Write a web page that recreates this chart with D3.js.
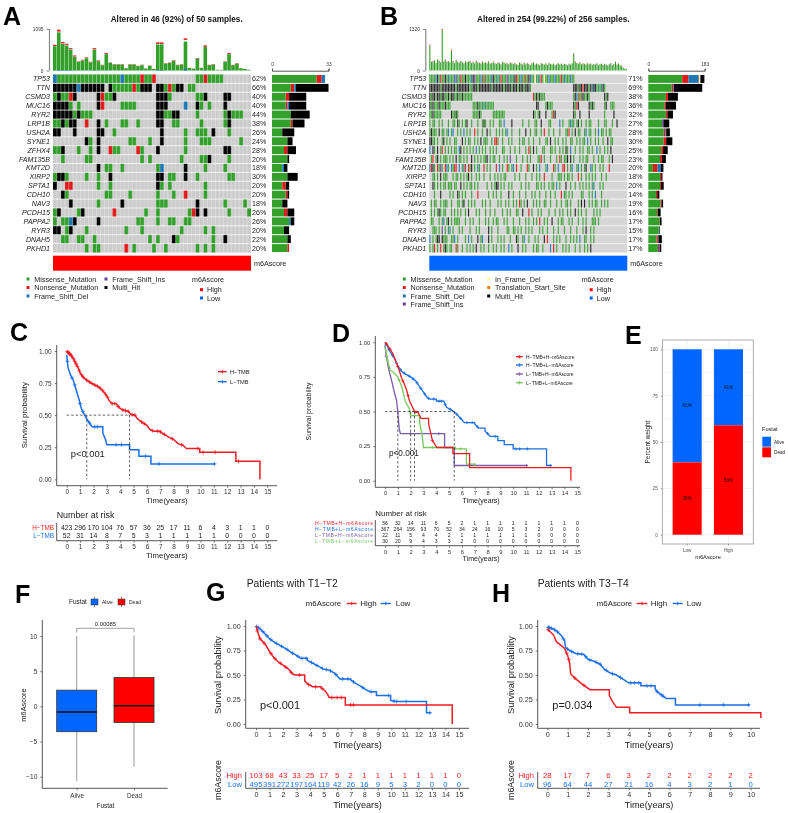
<!DOCTYPE html>
<html><head><meta charset="utf-8">
<script src="https://cdn.jsdelivr.net/npm/d3@7/dist/d3.min.js"></script>
<style>html,body{margin:0;padding:0;background:#fff}svg{display:block;filter:blur(.45px)}text{font-family:"Liberation Sans",Arial,sans-serif;fill:#222}</style>
</head><body><svg id="c" width="788" height="813"></svg>
<script>
// ---------- DATA ----------
const genes=["TP53","TTN","CSMD3","MUC16","RYR2","LRP1B","USH2A","SYNE1","ZFHX4","FAM135B","KMT2D","XIRP2","SPTA1","CDH10","NAV3","PCDH15","PAPPA2","RYR3","DNAH5","PKHD1"];
const pctA=[62,66,40,40,44,38,26,24,28,20,18,30,20,20,18,26,26,20,22,20];
const pctB=[71,69,38,36,32,27,28,30,25,23,20,18,20,14,19,16,17,15,17,17];
const cellsA=[
"DMMMMMMMMMMMMMMMMDMMMMNMMN..........MMNMMMM",
"HHHHHHDHHHHHH.HMMMMMNMHHH.HHMNMHH.MM",
"MHMMNH.....HNMMH..........HHHM......MMH....HH",
"HHHHM.M....HN....MMMM.....HHH....D..HM.M...H",
"HHHHHMHMMM................HHMMHH....M......MHMMM",
"MMHMHH..N..H.M...MM..M....HH..MM.....M.....MH",
"HH...H.....HH..M...........H.....M..MMM.H...M",
"........HM.H.......MM...M..H.....M...MMM.......M",
"MMH...M..M.H..NMM....NM...H......M.........HH",
"..M.....MM............M.M.......M....MMH....M",
"...........H.MM..M........MD.....H....M....M",
"MHHM....M..M..H...........HH.MM..H..M.......MM",
"H..NN......M..M...........HM.M........M",
"..HM.........MM....M......M...M..N....M",
"....H......M.....H........MMM.......H......M....M",
"MH....MH.......N.......M..M.......MNH.H.....M....M",
"M.MMDH.....H.........MM...M..MM..MM",
"HH.MH...M.........M...M.........M.....M.M",
"..MM..MM..M.............M.M...HM........M..H",
"........M.MM......N.M....M..M.......M.M.M"];
const tmbA=[680,1077,750,706,590,397,238,282,344,230,590,265,150,460,212,168,168,168,62,168,168,124,150,53,132,44,742,742,194,212,274,150,168,848,70,53,327,70,662,150,168,18,18,238,460,150,194,62,44,20];
const tmbAnons=[35,50,35,30,25,25,12,14,16,12,30,14,8,22,10,8,8,8,4,8,8,6,8,3,6,3,40,40,10,10,14,8,8,40,4,3,16,4,35,8,8,1,1,12,22,8,10,3,2,1];
const tmbAdel=[5,20,12,15,10,6,3,4,4,3,10,4,2,6,3,2,2,2,1,2,2,2,2,1,2,1,15,12,3,3,4,2,3,45,1,1,4,1,8,2,2,0,0,3,6,2,2,1,1,0];
const sideA=[[26,3,2,0],[11,2,1,19],[8,2,0,10],[8,1,1,10],[11,0,0,11],[11,1,0,7],[6,0,0,7],[9,0,0,3],[7,2,0,5],[9,0,0,1],[6,0,1,2],[9,0,0,6],[6,2,0,2],[8,1,0,1],[6,0,0,3],[7,2,0,4],[10,0,1,2],[7,0,0,3],[9,0,0,2],[9,1,0,0]];
// Panel B rows: [first bin, pattern]; one bin = two samples
const cellsB=[
[[0,"MMMMDHMNMMHMDMMMDIMMNMMHMMMDHIMMMDMNMMMMDHMMDMNMMMIMMDMHNMMDMMNMHDMMYMDMNMYMMDMMMDMMMNMDMMMDMM"]],
[[0,"HHHHHHHMHHHHHHHHHMHHHHHHHHMMHHHMHHHHHHHHMHHHHHHHMHHHHMHHHMHHHMHHHM"],[93,"HHHMHHNHHHMHDHHMMDMHM"]],
[[0,"HMHHMHHMHHMMHMHHMMHMMHMMMMMM"],[67,"NMHMHMMM"],[93,"MHDMNMHMMHM"],[113,"HMH"]],
[[0,"HMHMMMHMMMHMMM"],[28,"MMMHMMMDMMMMMM"],[69,"HH"],[75,"MHMMM"],[93,"HMNH"],[103,"HMHM"],[113,"MH"],[117,"MMM"]],
[[0,"MMHMMMMM"],[14,"HMMHM"],[28,"MMMMHM"],[41,"MMMMMMMM"],[67,"HM.MH"],[75,"H"],[79,"MNH"],[93,"HM"],[97,"H"],[103,"H"],[113,"M"],[119,"H"]],
"M.MM..M.M...M..MM.HM.M.MH..M...M..MHM..M.M...MM.D....H......M...M...MM..H....MM.....D.M...MDMM.MH.M..M.MM....M...MM...M..H",
"MHMMM.H.MM.MD.MD..M.M.D.M.M..N.M..M..H.M...M.M.M.MD..M....M...H..M..MM..M.N..M..M...M...MMN.M.H.MM..MD.MM..M.D.MM.M.MM...",
"HHMM.M..MH.M.M..MM...H.M.MM..M.M.H.MMM..M.NNM..M...M.M....M.MM..M..M...M...MM.H..M.M..M.M..MM..M.M.MM.D.M..M.M..M..H.MM..",
"D.HM.H.MN.M.M.M.MM.DH.M.M.M.M.D.M.M.M..M.M.M...MM...M..M..M...M.NM.H.M...MM...MM.M..M.M.HM.D..M..M.M..MM.M..D.M..M.M.H...",
".MN.MH.M.MMM.M.M.H.MM.M.M..H.M.M.M.MMH.M.MM..M..M.M.I...M...M..M.M....MMN.M...M...M.NM.MMH.H.M...M.M.MM...M..M.MM...M.H",
"DNHM.NMIM.NDM.DMNN.D.MDN.NMH.M.DM..N.M.M...N.D.M..NM.MD.N..M...NM..H.M.D...MD...NM.D..NN.M.MD..MD.M.MH..DM.M..M.M...N.",
"..MM.M.H.MMM...M.MM.M.M.MH.M..M.M..M...M..M.M.M.MM.....M..M...M...M..M.M..N....M...MMM.M.MM.M...N.M..M.M.M.M...M..M",
"..HM.M.M.MM.MMM.MM..H.M.M.MM.M.M.....M..M.MHH.M.M..M.M.....M..M.M....MM.M.M..M.MM.D.M...H..M..M..M.M.M.M.MD...M.M.",
"...M...H.....M.M..HM.M.M...M...N......M..M.M..M....H..M...M...M...M.M..M...M..M..M...N.MM.M.M.....MM...M.M.D...M..",
".M.MM..M.MMM..M...MM.MH..M.M.M....M.M..M....M.M..M.M..M.M.NM.M.H...M.M.M..MM..M...M..M..MM.M....M.H.H..M.M.MM..M.M.M",
".M.M.MHM.MM...M.M.M.M..M.H....M.M...M..M..M....M..M.M...MM..H...N.M...M.M....M...M..M.M..M.M..H.M.M..M....M.M.M",
".MM...M.MD.MH.M.MMMM...M..M.M...M...M.M..M.MM...M.M...M...M...M.M..M.M.N..M.M..H...M.MM...M.M...M..M.M...MMM.M",
"..MMM.M.I.M.MD.M...M.M....M...M.M.....H.M...M.....MM..MM.M.M..M.M.M....M.M..M...M..M...M...M...M...M.H..M.M.",
"D.M.MHH.HMMM..MMD.M....M.D.M...H.MD...H.M...M.M.M...M...HM..MD..M...M.M...H.N...M.M.M...M..M.M.M.D..MM..M.M",
"M.MN.M.N.MHM.MM..NM..M..M.M.M.H..M.M..M..M.M..M.M..D.M...H..M.M....M.MM..M....D.N.M...M.M.M...M..M..M.M.H."];
const tmbB=[820,280,300,330,240,350,310,260,1320,290,350,280,300,260,660,300,240,340,280,250,310,270,230,300,260,290,310,240,280,230,320,260,250,220,290,240,270,230,300,220,240,280,230,210,260,240,200,280,250,220,240,200,260,230,210,240,200,180,260,220,190,250,200,240,210,170,230,260,190,220,200,170,240,210,190,230,180,240,210,190,220,170,200,240,190,220,180,210,200,170,220,190,230,550,290,240,220,260,200,230,210,190,240,200,220,180,210,190,230,170,200,220,180,210,190,160,200,240,170,210,280,190,230,170,150,90,60,50];
const tmbBnons=[30,10,12,14,9,14,12,10,40,11,14,11,12,10,25,12,9,14,11,10,12,11,9,12,10,11,12,9,11,9,12,10,10,8,11,9,10,9,12,8,9,11,9,8,10,9,8,11,10,8,9,8,10,9,8,9,8,7,10,8,7,10,8,9,8,7,9,10,7,8,8,7,9,8,7,9,7,9,8,7,8,7,8,9,7,8,7,8,8,7,8,7,9,20,11,9,8,10,8,9,8,7,9,8,8,7,8,7,9,7,8,8,7,8,7,6,8,9,7,8,11,7,9,7,6,3,2,2];
const sideB=[[110,20,33,2,4,0,13],[76,5,2,0,0,0,92],[57,7,0,0,0,0,32],[52,4,0,0,0,0,34],[57,5,0,0,0,0,18],[45,0,0,4,0,0,19],[50,5,3,0,0,0,12],[50,8,0,0,0,0,20],[42,6,0,0,0,0,15],[38,6,0,0,0,0,13],[15,15,11,0,0,0,8],[38,4,0,0,0,0,4],[38,3,0,0,0,0,9],[25,4,0,0,0,0,7],[40,3,0,0,0,0,5],[29,2,0,0,0,0,9],[37,1,0,0,0,0,5],[34,0,1,0,0,0,2],[27,4,2,0,0,0,11],[31,4,3,0,0,0,4]];

const cH=[[0,1],[.1,.99],[.3,.97],[.5,.94],[.7,.9],[.9,.86],[1,.83],[1.2,.8],[1.4,.78],[1.6,.765],[2,.74],[2.4,.72],[2.7,.69],[3,.65],[3.2,.61],[3.4,.59],[3.7,.59],[3.9,.56],[4.2,.54],[4.6,.53],[4.8,.505],[5.1,.5],[5.3,.47],[5.7,.44],[6,.42],[6.2,.39],[6.5,.375],[7,.37],[7.3,.35],[7.6,.33],[8,.31],[8.3,.28],[8.7,.265],[8.95,.24],[9.95,.21],[12.65,.14],[14.45,0]];
const cHc=[.05,.1,.15,.2,.3,.35,.5,.6,.7,.8,.95,1.1,1.25,1.5,1.7,1.9,2.1,2.3,2.5,2.7,2.9,3.05,3.4,3.6,3.85,4.2,4.4,4.6,4.9,5.1,5.6,5.8,6.4,6.8,7,7.3,7.9,8.6,9.8,10.2,11.1,12.85];
const cL=[[0,.97],[.1,.87],[.3,.81],[.5,.77],[.7,.7],[.9,.63],[1.1,.55],[1.3,.51],[1.5,.47],[1.9,.41],[2.7,.36],[2.9,.31],[3,.27],[4.7,.23],[5.4,.18],[6.3,.12],[11.1,.12]];
const cLc=[.05,.4,.6,1,1.2,1.7,2.1,2.3,3.7,4.1,5.9,6.9,11.05];
const cRiskH=[423,296,170,104,76,57,36,25,17,11,6,4,3,1,1,0];
const cRiskL=[52,31,14,8,7,5,3,1,1,1,1,1,0,0,0,0];
const cMedian=[1.5,4.7];

const dHH=[[0,1],[.2,.98],[.4,.95],[.6,.92],[.9,.85],[1.1,.8],[1.3,.74],[1.5,.7],[1.7,.65],[1.9,.58],[2.3,.5],[2.6,.49],[2.8,.45],[3.4,.41],[3.7,.29],[4.05,.24],[5.3,.195],[6.6,.095],[14.5,0]];
const dHHc=[.1,.4,1,1.4,1.8,2.4,3.7];
const dHL=[[0,1],[.2,.97],[.4,.93],[.7,.89],[1,.83],[1.3,.79],[1.6,.77],[2,.75],[2.4,.72],[2.7,.68],[3,.64],[3.3,.6],[3.5,.59],[4,.575],[4.6,.57],[4.8,.53],[5.2,.51],[5.5,.49],[5.8,.46],[6.2,.42],[7,.41],[7.3,.38],[7.8,.36],[8.2,.32],[8.8,.29],[9.3,.26],[10,.23],[12.6,.11],[13,.11]];
const dHLc=[.1,.3,.6,.9,1.2,1.5,1.9,2.2,2.5,2.8,3.1,3.4,3.8,4.2,4.4,4.7,5.1,5.6,5.9,6.4,6.8,7.2,8,8.6,10.2,10.5,11.1,12.9];
const dLH=[[0,.98],[.1,.9],[.3,.8],[.5,.73],[.7,.65],[.9,.58],[1,.5],[1.1,.38],[1.2,.34],[4.65,.24],[5.4,.11],[11.1,.11]];
const dLHc=[.1,2,4.2,11.05];
const dLL=[[0,.97],[.2,.87],[.4,.8],[.7,.78],[1,.75],[1.3,.68],[1.6,.57],[1.9,.52],[2,.47],[2.7,.42],[2.9,.33],[3,.24],[5.5,.23],[6.35,.12],[7,.115]];
const dLLc=[.2,1.1,2.3,3.7,5.9,7];
const dRisk1=[56,32,14,11,6,5,2,1,1,1,1,1,1,1,1,0];
const dRisk2=[367,264,156,93,70,52,34,24,16,10,5,3,2,0,0,0];
const dRisk3=[22,11,5,4,4,2,1,1,1,1,1,1,0,0,0,0];
const dRisk4=[30,20,9,4,3,3,2,0,0,0,0,0,0,0,0,0];
const dMedian=[1,2,2.3,5.4];

const gHigh=[[0,1],[.1,.95],[.3,.87],[.5,.84],[.7,.81],[1,.74],[1.3,.68],[1.6,.64],[2,.6],[2.4,.56],[2.7,.51],[2.9,.5],[3.6,.44],[3.8,.41],[4.2,.38],[4.8,.37],[5.1,.34],[5.3,.3],[5.4,.27],[6.6,.195],[14.5,0]];
const gHighc=[.1,.3,.6,1.1,1.4,1.8,2.2,2.6,3.2,3.9,4.4,4.9,5.6,6,6.3,7,7.2];
const gLow=[[0,1],[.3,.97],[.6,.93],[1,.87],[1.4,.83],[1.8,.8],[2.2,.77],[2.6,.73],[3,.7],[3.3,.67],[3.8,.65],[4.2,.62],[4.6,.59],[5,.56],[5.4,.55],[5.8,.52],[6.2,.46],[7,.45],[7.3,.42],[7.7,.39],[8,.36],[8.4,.33],[8.9,.29],[9.95,.24],[10.3,.23],[12.6,.115],[12.9,.115]];
const gLowc=[.05,.2,.5,.8,1.1,1.5,1.9,2.3,2.7,3.1,3.4,3.7,4.1,4.5,4.9,5.2,5.5,5.9,6.4,6.8,7.2,7.9,8.5,9.8,10.2,10.4,11.1,12.85];
const gRiskHigh=[103,68,43,33,25,17,5,2,1,1,1,1,1,1,1,0];
const gRiskLow=[495,391,272,197,164,119,42,26,16,9,5,3,2,0,0,0];

const hHigh=[[0,.97],[.3,.91],[.45,.84],[.85,.77],[1,.7],[1.1,.62],[1.15,.51],[1.4,.46],[1.7,.41],[2.1,.35],[3.05,.29],[3.2,.23],[3.4,.17],[4.05,.115],[10.5,.06]];
const hHighc=[.05,.95,1.05,1.35,1.8];
const hLow=[[0,.99],[.3,.97],[.5,.94],[.7,.9],[.85,.85],[.9,.78],[1.1,.75],[1.4,.72],[1.8,.71],[2,.66],[2.3,.64],[2.6,.61],[2.8,.56],[3.1,.52],[3.4,.5],[3.7,.46],[4,.42],[4.6,.39],[5.3,.36],[5.4,.33],[5.85,.26],[6.3,.195],[9.95,.195]];
const hLowc=[.05,.1,.2,.35,.5,.8,1,1.2,1.5,1.7,1.9,2.1,2.4,2.6,2.9,3.2,3.6,4.1,4.3,4.5,4.9,5.1,5.4,5.6,5.7,7.5,8.65,9.9];
const hRiskHigh=[28,17,7,6,3,2,2,2,2,2,2];
const hRiskLow=[96,64,44,27,21,16,4,3,2,1,0];

const eCats=["Low","High"];const eDead=[39,59];const eAlive=[61,41];
const eTicks=[0,25,50,75,100];
const fCats=["Alive","Dead"];
const fBox=[{lo:-10.6,q1:-3.6,med:-.8,q3:2.3,hi:10},{lo:-8.6,q1:-2.3,med:.1,q3:4.1,hi:10.1}];
const fTicks=[-10,-5,0,5,10];const fP="0.00085";

// ---------- HELPERS ----------
const svg=d3.select("#c");
const RED="#ff0000",BLUE="#0066ff",KR="#ee1c25",KB="#1a6fe6",PU="#7b5ba6",GR="#77c95f",AX="#444";
const mutCol={M:"#33a02c",N:"#e31a1c",D:"#1f78b4",I:"#6a3d9a",Y:"#ffff99",T:"#ff7f00",H:"#000"};
function tx(x,y,s,o={}){const t=svg.append("text").attr("x",x).attr("y",y).text(s)
 .attr("font-size",o.fs||7).attr("text-anchor",o.a||"start");
 if(o.w)t.attr("font-weight",o.w);if(o.i)t.attr("font-style","italic");if(o.c)t.style("fill",o.c);
 if(o.tl)t.attr("textLength",o.tl);
 if(o.r)t.attr("transform",`rotate(-90 ${x} ${y})`);return t;}
function ln(x1,y1,x2,y2,c=AX,w=1,d){const l=svg.append("line").attr("x1",x1).attr("y1",y1).attr("x2",x2).attr("y2",y2).attr("stroke",c).attr("stroke-width",w);if(d)l.attr("stroke-dasharray",d);return l;}
function styleAxis(g,fs,col="#333",tick="#444"){g.select(".domain").remove();g.selectAll("text").attr("font-size",fs).style("fill",col);g.selectAll("line").attr("stroke",tick).attr("stroke-width",.7);}

// Letters
[["A",3,25],["B",380,25],["C",10,341],["D",332,342],["E",625,344],["F",15,603],["G",206,601],["H",492,602]]
 .forEach(d=>tx(d[1],d[2],d[0],{fs:25,w:"bold",c:"#000"}));

// ---------- ONCOPLOTS ----------
function onco(o){
 const nB=o.n,x=d3.scaleLinear().domain([0,nB]).range([o.x0,o.x1]);
 const y=d3.scaleBand().domain(genes).range([74.5,252.5]);
 tx(o.tc,22,o.title,{fs:8.2,w:"bold",a:"middle",c:"#111"});
 const ty=d3.scaleLinear().domain([0,o.max]).range([70.5,29]);
 const w=(o.x1-o.x0)/nB;
 o.top.forEach((v,i)=>{
  const n=o.topN[i],d=o.topD?o.topD[i]:0;
  const bw=nB===50?w-.35:1.1;
  svg.append("rect").attr("x",x(i)).attr("width",bw).attr("y",ty(v-n-d)).attr("height",ty(0)-ty(v-n-d)).attr("fill",mutCol.M);
  if(d)svg.append("rect").attr("x",x(i)).attr("width",bw).attr("y",ty(d)).attr("height",ty(0)-ty(d)).attr("fill",mutCol.D);
  svg.append("rect").attr("x",x(i)).attr("width",bw).attr("y",ty(v)).attr("height",ty(v-n)-ty(v)).attr("fill",mutCol.N);
 });
 const yAx=svg.append("g").attr("transform",`translate(${o.x0-3.5},0)`).call(d3.axisLeft(ty).tickValues([0,o.max]).tickSize(3).tickFormat(d3.format("d")));
 yAx.select(".domain").remove();yAx.selectAll("text").attr("font-size",4.8).style("fill","#333");yAx.selectAll("line").attr("stroke","#888");
 ln(o.x0-3.5,29,o.x0-3.5,70.5,"#888",1.2);
 svg.append("rect").attr("x",o.x0).attr("y",74.5).attr("width",o.x1-o.x0).attr("height",178).attr("fill",nB===50?"#cccccc":"#d6d6d6");
 o.rows.forEach((row,r)=>{
  [...row].forEach((ch,i)=>{ if(ch===".")return;
   svg.append("rect").attr("x",x(i)).attr("y",y(genes[r])).attr("width",nB===50?w:1.15).attr("height",y.bandwidth()).attr("fill",mutCol[ch]).attr("opacity",nB===50?1:(ch==="H"?.8:.9));
  });
  tx(o.x0-3,y(genes[r])+y.bandwidth()/2+2.5,genes[r],{fs:7.1,i:1,a:"end",c:"#222"});
  tx(o.x1+1,y(genes[r])+y.bandwidth()/2+2.5,o.pct[r]+"%",{fs:7.1,c:"#222"});
 });
 if(nB===50)d3.range(1,50).forEach(i=>ln(x(i),74.5,x(i),252.5,"#fff",.3));
 genes.forEach((g,i)=>{if(i)ln(o.x0,y(g),o.x1,y(g),"#fff",.7);});
 const sx=d3.scaleLinear().domain([0,o.sideMax]).range([o.sx0,o.sx1]);
 o.side.forEach((s,r)=>{let acc=0;
  s.forEach((v,k)=>{if(v){svg.append("rect").attr("x",sx(acc)).attr("y",y(genes[r])+.5).attr("width",sx(v)-sx(0)).attr("height",y.bandwidth()-1).attr("fill",mutCol[o.sideKeys[k]]);acc+=v;}});
 });
 const sa=svg.append("g").attr("transform","translate(0,70.7)").call(d3.axisTop(sx).tickValues([0,o.sideMax]).tickSize(2).tickFormat(d3.format("d")));
 sa.selectAll("text").attr("font-size",4.8).style("fill","#333");sa.selectAll("line").attr("stroke","#555");sa.select(".domain").attr("stroke","#555");
 svg.append("rect").attr("x",o.x0).attr("y",255.7).attr("width",o.x1-o.x0).attr("height",15).attr("fill",o.ann);
 tx(o.x1+3,265.5,"m6Ascore",{fs:7.2,c:"#222"});
 o.legend.forEach(l=>{svg.append("rect").attr("x",l[0]-1.5).attr("y",l[1]-1.5).attr("width",3).attr("height",3).attr("fill",mutCol[l[3]]);
  tx(l[0]+6.3,l[1]+2.5,l[2],{fs:7.2,c:"#222"});});
 tx(o.ax,281.5,"m6Ascore",{fs:7.1,c:"#222"});
 [["High",RED,289.7],["Low",BLUE,298]].forEach(d=>{svg.append("rect").attr("x",o.ax+8).attr("y",d[2]-1.5).attr("width",3).attr("height",3).attr("fill",d[1]);tx(o.ax+15,d[2]+2.5,d[0],{fs:7.2,c:"#222"});});
}
onco({n:50,x0:53,x1:251,title:"Altered in 46 (92%) of 50 samples.",tc:176.7,max:1095,top:tmbA,topN:tmbAnons,topD:tmbAdel,
 rows:cellsA,pct:pctA,sx0:272,sx1:328.5,sideMax:33,side:sideA,sideKeys:"MNDH",ann:RED,ax:192,
 legend:[[28,279,"Missense_Mutation","M"],[28,287.5,"Nonsense_Mutation","N"],[28,296,"Frame_Shift_Del","D"],[106,279,"Frame_Shift_Ins","I"],[106,287.5,"Multi_Hit","H"]]});
const rowsB=cellsB.map(r=>{if(typeof r==="string")return r;const a=new Array(128).fill(".");r.forEach(([s,p])=>[...p].forEach((c,i)=>{a[s+i]=c;}));return a.join("");});
onco({n:128,x0:429.3,x1:627.3,title:"Altered in 254 (99.22%) of 256 samples.",tc:553.3,max:1320,top:tmbB,topN:tmbBnons,
 rows:rowsB,pct:pctB,sx0:648.3,sx1:704.7,sideMax:183,side:sideB,sideKeys:"MNDIYTH",ann:BLUE,ax:581.7,
 legend:[[404.3,279,"Missense_Mutation","M"],[404.3,287.5,"Nonsense_Mutation","N"],[404.3,296,"Frame_Shift_Del","D"],[404.3,304,"Frame_Shift_Ins","I"],[488.7,279,"In_Frame_Del","Y"],[488.7,287.5,"Translation_Start_Site","T"],[488.7,296,"Multi_Hit","H"]]});

// ---------- KM PANELS ----------
function stepVal(c,t){
 let i=0;while(i<c.length-1&&c[i+1][0]<=t)i++;
 if(i===c.length-1)return c[i][1];
 const a=c[i],b=c[i+1];return (b[0]-a[0]>.45)?a[1]:a[1]+(b[1]-a[1])*(t-a[0])/(b[0]-a[0]);}
function pathPts(c){const out=[c[0]];for(let i=1;i<c.length;i++){if(c[i][0]-c[i-1][0]>.45)out.push([c[i][0],c[i-1][1]]);out.push(c[i]);}return out;}
function km(o){
 const x=d3.scaleLinear().domain([0,o.tMax]).range([o.x0,o.x1]);
 const y=d3.scaleLinear().domain([0,1]).range([o.y0,o.y1]);
 const ticksT=d3.range(0,o.tMax+1);
 o.curves.forEach(c=>{
  const line=d3.line().x(d=>x(d[0])).y(d=>y(d[1]));
  svg.append("path").attr("d",line(pathPts(c.pts))).attr("fill","none").attr("stroke",c.col).attr("stroke-width",o.lw||1.5).attr("stroke-linejoin","miter");
  c.cens.forEach(t=>{const X=x(t),Y=y(stepVal(c.pts,t)),s=o.ms||2;
   ln(X-s,Y,X+s,Y,c.col,.8);ln(X,Y-s,X,Y+s,c.col,.8);});
 });
 if(o.med){ln(x(0),y(.5),x(d3.max(o.med)),y(.5),"#222",.7,"2.5,2");
  o.med.forEach(m=>ln(x(m),y(.5),x(m),y(0),"#222",.7,"2.5,2"));}
 const ax=svg.append("g").attr("transform",`translate(0,${o.ay})`).call(d3.axisBottom(x).tickValues(ticksT).tickSize(2).tickPadding(2).tickFormat(d3.format("d")));
 styleAxis(ax,o.fs);
 ln(o.axL,o.ay,o.axR,o.ay,AX,.9);ln(o.axL,o.axT,o.axL,o.ay,AX,.9);
 const ay=svg.append("g").attr("transform",`translate(${o.axL},0)`).call(d3.axisLeft(y).tickValues([0,.25,.5,.75,1]).tickSize(2).tickFormat(d3.format(".2f")));
 styleAxis(ay,o.fs);
 tx(x(o.tMax/2)+o.tlDx,o.ay+o.tlDy,"Time(years)",{fs:o.fsT,a:"middle",c:"#222"});
 tx(o.ylx,(y(0)+y(1))/2,"Survival probability",{fs:o.fsY||o.fsT,a:"middle",r:1,c:"#222"});
 tx(o.px,o.py,o.p,{fs:o.fsP,c:"#222"});
 const r=o.risk;
 r.rows.forEach((row,i)=>{
  row.vals.forEach((v,k)=>tx(x(k),r.ys[i]+r.fs*.36,v,{fs:r.fs,a:"middle",c:r.colored?row.col:"#222"}));
  tx(r.lx,r.ys[i]+r.fs*.36,row.label,{fs:r.lfs||r.fs,a:"end",c:row.col,tl:r.ltl});
 });
 const ra=svg.append("g").attr("transform",`translate(0,${r.ay})`).call(d3.axisBottom(x).tickValues(ticksT).tickSize(2).tickPadding(2).tickFormat(d3.format("d")));
 styleAxis(ra,o.fs);
 ln(o.axL,r.ay,o.axR,r.ay,AX,.9);ln(o.axL,r.top,o.axL,r.ay,AX,.9);
 tx(x(o.tMax/2)+o.tlDx,r.ay+o.tlDy,"Time(years)",{fs:o.fsT,a:"middle",c:"#222"});
 if(r.head)tx(o.axL,r.head,"Number at risk",{fs:r.hfs,c:"#222"});
}
km({tMax:15,x0:66.7,x1:267.3,y0:479.3,y1:351,ay:485.7,axL:56.7,axR:277,axT:345,fs:6.5,fsT:7.8,tlDx:0,tlDy:17.5,ylx:27,fsY:7.9,
 px:70.7,py:457,p:"p<0.001",fsP:9.4,med:cMedian,
 curves:[{pts:cH,cens:cHc,col:KR},{pts:cL,cens:cLc,col:KB}],
 risk:{ys:[527.5,536],fs:6.9,lx:54,ay:540.7,top:523,head:518,hfs:8.9,lfs:6.4,rows:[{vals:cRiskH,label:"H\u2212TMB",col:KR},{vals:cRiskL,label:"L\u2212TMB",col:KB}]}});
km({tMax:15,x0:385,x1:577.3,y0:480.7,y1:342.3,ay:487.3,axL:375.3,axR:580,axT:336,fs:5.8,fsT:7,tlDx:0,tlDy:15.5,ylx:311,fsY:6.9,
 px:389,py:456,p:"p<0.001",fsP:8.2,med:dMedian,lw:1.3,ms:1.6,
 curves:[{pts:dHL,cens:dHLc,col:KB},{pts:dLH,cens:dLHc,col:PU},{pts:dLL,cens:dLLc,col:GR},{pts:dHH,cens:dHHc,col:KR}],
 risk:{ys:[523.3,529.4,535.5,541.6],fs:5.1,lfs:5.1,ltl:58,lx:373,ay:545.7,top:520,head:516,hfs:7.9,rows:[
  {vals:dRisk1,label:"H\u2212TMB+H\u2212m6Ascore",col:KR},{vals:dRisk2,label:"H\u2212TMB+L\u2212m6Ascore",col:KB},{vals:dRisk3,label:"L\u2212TMB+H\u2212m6Ascore",col:PU},{vals:dRisk4,label:"L\u2212TMB+L\u2212m6Ascore",col:GR}]}});
km({tMax:15,x0:256,x1:459,y0:724,y1:626,ay:728.3,axL:245.7,axR:469,axT:620,fs:7.2,fsT:9.2,tlDx:0,tlDy:20,ylx:221,fsY:9.3,
 px:260,py:709,p:"p<0.001",fsP:11,
 curves:[{pts:gLow,cens:gLowc,col:KB},{pts:gHigh,cens:gHighc,col:KR}],
 risk:{ys:[775.2,784],fs:7.7,lfs:7.6,colored:1,lx:242,ay:788.3,top:772,rows:[{vals:gRiskHigh,label:"High",col:KR},{vals:gRiskLow,label:"Low",col:KB}]}});
km({tMax:10,x0:547.3,x1:750.7,y0:724,y1:626,ay:728.3,axL:537.7,axR:760,axT:620,fs:7.2,fsT:9.2,tlDx:0,tlDy:20,ylx:514,fsY:9.3,
 px:552.3,py:709,p:"p=0.034",fsP:11,
 curves:[{pts:hLow,cens:hLowc,col:KB},{pts:hHigh,cens:hHighc,col:KR}],
 risk:{ys:[775.2,784],fs:7.7,lfs:7.6,colored:1,lx:534,ay:788.3,top:772,rows:[{vals:hRiskHigh,label:"High",col:KR},{vals:hRiskLow,label:"Low",col:KB}]}});

function legKey(x1,x2,y,c,w=1.4){ln(x1,y,x2,y,c,w);const m=(x1+x2)/2;ln(m,y-1.8,m,y+1.8,c,.9);}
[["H\u2212TMB",KR,371.7],["L\u2212TMB",KB,381.7]].forEach(d=>{legKey(218,226.7,d[2],d[1]);tx(230,d[2]+2,d[0],{fs:5.7,c:"#222"});});
[["H\u2212TMB+H\u2212m6Ascore",KR,356.7],["H\u2212TMB+L\u2212m6Ascore",KB,365],["L\u2212TMB+H\u2212m6Ascore",PU,374],["L\u2212TMB+L\u2212m6Ascore",GR,382.7]]
 .forEach(d=>{legKey(516,522.7,d[2],d[1]);tx(526,d[2]+1.8,d[0],{fs:4.95,c:"#222"});});
tx(246.7,587,"Patients with T1\u2212T2",{fs:10.3,c:"#222"});
tx(537.7,587,"Patients with T3\u2212T4",{fs:10.3,c:"#222"});
function kmLeg(x0,x1,x2,x3,x4,x5){const y=603.5;tx(x0,y+2.8,"m6Ascore",{fs:7.9,c:"#222"});
 legKey(x1,x2,y,KR);tx(x2+3.5,y+2.8,"High",{fs:8,c:"#222"});legKey(x3,x4,y,KB);tx(x5,y+2.8,"Low",{fs:8,c:"#222"});}
kmLeg(305.7,346.7,356.7,380.7,390.7,395.7);
kmLeg(596.7,636.7,647.3,672.7,682.7,686.7);
tx(221,780,"m6Ascore",{fs:8.9,a:"middle",r:1,c:"#222"});
tx(514,780,"m6Ascore",{fs:8.9,a:"middle",r:1,c:"#222"});

// ---------- E ----------
(function(){
 const x=d3.scaleBand().domain(eCats).range([662.3,753.3]).paddingInner(.296).paddingOuter(.25);
 const y=d3.scaleLinear().domain([0,100]).range([534.7,349.3]);
 [12.5,37.5,62.5,87.5].forEach(v=>ln(662.3,y(v),753.3,y(v),"#f4f4f4",.5));
 eTicks.forEach(v=>ln(662.3,y(v),753.3,y(v),"#ececec",.7));
 eCats.forEach(c=>ln(x(c)+x.bandwidth()/2,340,x(c)+x.bandwidth()/2,544,"#ececec",.7));
 eCats.forEach((c,i)=>{
  svg.append("rect").attr("x",x(c)).attr("width",x.bandwidth()).attr("y",y(100)).attr("height",y(eDead[i])-y(100)).attr("fill",BLUE);
  svg.append("rect").attr("x",x(c)).attr("width",x.bandwidth()).attr("y",y(eDead[i])).attr("height",y(0)-y(eDead[i])).attr("fill",RED);
  tx(x(c)+x.bandwidth()/2,y(100-eAlive[i]/2)+1.5,eAlive[i]+"%",{fs:4.6,a:"middle",c:"#111"});
  tx(x(c)+x.bandwidth()/2,y(eDead[i]/2)+1.5,eDead[i]+"%",{fs:4.6,a:"middle",c:"#111"});
 });
 svg.append("rect").attr("x",662.3).attr("y",340).attr("width",91).attr("height",204).attr("fill","none").attr("stroke","#999").attr("stroke-width",.8);
 const ya=svg.append("g").attr("transform","translate(662.3,0)").call(d3.axisLeft(y).tickValues(eTicks).tickSize(1.5));
 styleAxis(ya,4.6,"#555","#777");
 const xa=svg.append("g").attr("transform","translate(0,544)").call(d3.axisBottom(x).tickSize(1.5));
 styleAxis(xa,4.6,"#555","#777");
 tx(708,559,"m6Ascore",{fs:5.7,a:"middle",c:"#222"});
 tx(649.5,442,"Percent weight",{fs:6.5,a:"middle",r:1,c:"#222"});
 tx(762,431,"Fustat",{fs:5.6,c:"#222"});
 svg.append("rect").attr("x",762.3).attr("y",436.7).attr("width",8.7).attr("height",10).attr("fill",BLUE);
 svg.append("rect").attr("x",762.3).attr("y",447.3).attr("width",8.7).attr("height",10).attr("fill",RED);
 tx(774,443.5,"Alive",{fs:4.7,c:"#222"});tx(774,454,"Dead",{fs:4.7,c:"#222"});
})();

// ---------- F ----------
(function(){
 const x=d3.scalePoint().domain(fCats).range([76.7,134]);
 const y=d3.scaleLinear().domain([-10,10]).range([776.7,636]);
 const cols=[BLUE,RED];
 fBox.forEach((b,i)=>{const X=x(fCats[i]);
  ln(X,y(b.lo),X,y(b.hi),"#aaa",1.2);
  svg.append("rect").attr("x",X-20).attr("width",40).attr("y",y(b.q3)).attr("height",y(b.q1)-y(b.q3)).attr("fill",cols[i]).attr("stroke","#333").attr("stroke-width",.8);
  ln(X-20,y(b.med),X+20,y(b.med),"#111",1.5);
 });
 ln(42.3,620,42.3,788.3,AX,.9);ln(42.3,788.3,167.7,788.3,AX,.9);
 const ya=svg.append("g").attr("transform","translate(42.3,0)").call(d3.axisLeft(y).tickValues(fTicks).tickSize(2).tickFormat(d=>d<0?"\u2212"+(-d):d));
 styleAxis(ya,6.6);
 const xa=svg.append("g").attr("transform","translate(0,788.3)").call(d3.axisBottom(x).tickSize(2));
 styleAxis(xa,6.3);
 tx(105.5,808,"Fustat",{fs:6.4,a:"middle",c:"#222"});
 tx(25.5,705,"m6Ascore",{fs:7.4,a:"middle",r:1,c:"#222"});
 svg.append("path").attr("d",`M${x("Alive")},632.5V628.3H${x("Dead")}V632.5`).attr("fill","none").attr("stroke","#777").attr("stroke-width",.7);
 tx(105.5,626,fP,{fs:5.9,a:"middle",c:"#222"});
 tx(69,604.3,"Fustat",{fs:6.4,c:"#222"});
 [[91,BLUE,"Alive",102],[118,RED,"Dead",129]].forEach(d=>{
  ln(d[0]+3.5,597,d[0]+3.5,607,"#333",.6);
  svg.append("rect").attr("x",d[0]).attr("y",599).attr("width",7).attr("height",6).attr("fill",d[1]).attr("stroke","#333").attr("stroke-width",.5);
  tx(d[3],604.3,d[2],{fs:5,c:"#222"});});
})();
</script></body></html>
